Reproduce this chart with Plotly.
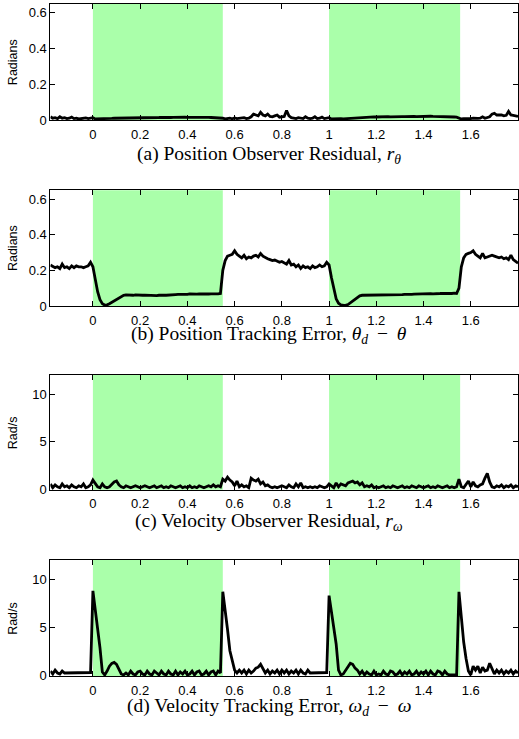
import numpy as np
import plotly.graph_objects as go

# ---------------- data ----------------
T_START, T_STOP, T_STEP = -0.18, 1.80, 0.01
t = np.round(np.arange(T_START, T_STOP + T_STEP / 2, T_STEP), 2)

# shaded intervals (seconds)
shade_start = [0.0, 1.0]
shade_end = [0.55, 1.555]

# (a) Position observer residual (rad)
pos_residual = [
    0.02, 0.012, 0.015, 0.01, 0.02, 0.012, 0.015, 0.01, 0.012, 0.018,
    0.01, 0.012, 0.008, 0.01, 0.012, 0.014, 0.01, 0.013, 0.015, 0.008,
    0.008, 0.007, 0.008, 0.009, 0.01, 0.01, 0.011, 0.012, 0.012, 0.013,
    0.013, 0.014, 0.014, 0.015, 0.014, 0.015, 0.015, 0.014, 0.015, 0.016,
    0.015, 0.016, 0.015, 0.016, 0.016, 0.015, 0.016, 0.017, 0.016, 0.016,
    0.017, 0.016, 0.017, 0.018, 0.017, 0.016, 0.017, 0.018, 0.017, 0.018,
    0.017, 0.018, 0.017, 0.017, 0.018, 0.017, 0.016, 0.017, 0.016, 0.016,
    0.016, 0.015, 0.015, 0.012, 0.008, 0.01, 0.012, 0.009, 0.014, 0.01,
    0.012, 0.01, 0.015, 0.01, 0.012, 0.02, 0.035, 0.03, 0.025, 0.045,
    0.03, 0.025, 0.035, 0.022, 0.02, 0.025, 0.03, 0.018, 0.02, 0.022,
    0.055, 0.025, 0.015, 0.012, 0.01, 0.015, 0.012, 0.01, 0.02, 0.012,
    0.01, 0.012, 0.02, 0.01, 0.012, 0.018, 0.01, 0.012, 0.015, 0.008,
    0.009, 0.01, 0.012, 0.01, 0.008, 0.009, 0.01, 0.012, 0.014, 0.016,
    0.017, 0.018, 0.017, 0.018, 0.019, 0.018, 0.019, 0.02, 0.019, 0.02,
    0.02, 0.019, 0.02, 0.021, 0.02, 0.021, 0.02, 0.021, 0.022, 0.021,
    0.021, 0.022, 0.021, 0.022, 0.022, 0.021, 0.022, 0.023, 0.022, 0.022,
    0.022, 0.023, 0.022, 0.022, 0.023, 0.022, 0.021, 0.02, 0.021, 0.02,
    0.02, 0.019, 0.018, 0.012, 0.008, 0.01, 0.009, 0.012, 0.01, 0.012,
    0.01, 0.011, 0.012, 0.02, 0.012, 0.015, 0.02, 0.035, 0.04, 0.03,
    0.032, 0.03, 0.025, 0.028, 0.05, 0.03, 0.028, 0.025, 0.022,
]

# (b) Position tracking error (rad)
pos_error = [
    0.23, 0.22, 0.215, 0.22, 0.21, 0.235, 0.215, 0.22, 0.21, 0.225,
    0.215, 0.225, 0.22, 0.22, 0.215, 0.22, 0.225, 0.245, 0.22, 0.15,
    0.08, 0.035, 0.012, 0.005, 0.006, 0.012, 0.02, 0.03, 0.04, 0.048,
    0.055, 0.06, 0.062, 0.06, 0.061, 0.06, 0.062, 0.06, 0.061, 0.06,
    0.061, 0.06, 0.062, 0.061, 0.06, 0.058, 0.06, 0.062, 0.061, 0.06,
    0.062, 0.063, 0.062, 0.064, 0.065, 0.064, 0.065, 0.066, 0.065, 0.068,
    0.066, 0.065, 0.066, 0.067, 0.066, 0.067, 0.068, 0.067, 0.068, 0.067,
    0.068, 0.068, 0.07, 0.2, 0.255, 0.28, 0.285, 0.29, 0.31, 0.29,
    0.28, 0.27, 0.285, 0.265, 0.275, 0.27, 0.28, 0.285, 0.275, 0.295,
    0.28, 0.27, 0.265, 0.26, 0.255, 0.258, 0.25, 0.245, 0.25, 0.24,
    0.235, 0.255, 0.23, 0.235, 0.22, 0.23, 0.21, 0.225, 0.215, 0.22,
    0.21, 0.225, 0.215, 0.22, 0.23, 0.22, 0.225, 0.245, 0.23, 0.16,
    0.09, 0.04, 0.015, 0.006, 0.004, 0.003, 0.008, 0.018, 0.03, 0.042,
    0.05, 0.057, 0.06, 0.06, 0.061, 0.06, 0.062, 0.06, 0.061, 0.06,
    0.06, 0.061, 0.062, 0.061, 0.062, 0.063, 0.062, 0.064, 0.063, 0.064,
    0.065, 0.064, 0.066, 0.065, 0.066, 0.067, 0.066, 0.068, 0.067, 0.068,
    0.068, 0.069, 0.068, 0.07, 0.069, 0.07, 0.071, 0.07, 0.072, 0.071,
    0.07, 0.072, 0.07, 0.1, 0.22, 0.27, 0.29, 0.295, 0.3, 0.31,
    0.29, 0.28, 0.27, 0.295, 0.27, 0.275, 0.28, 0.285, 0.28, 0.275,
    0.27, 0.275, 0.265, 0.27, 0.26, 0.285, 0.26, 0.25, 0.24,
]

# (c) Velocity observer residual (rad/s)
vel_residual = [
    0.6, 0.2, 0.5, 0.3, 0.2, 0.6, 0.3, 0.4, 0.2, 0.5,
    0.3, 0.2, 0.4, 0.3, 0.6, 0.2, 0.3, 0.5, 1.0, 0.6,
    0.3, 0.2, 0.6, 0.3, 0.2, 0.3, 0.6, 0.8, 0.9, 0.5,
    0.3, 0.2, 0.4, 0.3, 0.2, 0.3, 0.4, 0.3, 0.2, 0.3,
    0.4, 0.3, 0.2, 0.3, 0.4, 0.2, 0.3, 0.4, 0.2, 0.3,
    0.2, 0.4, 0.3, 0.2, 0.3, 0.4, 0.2, 0.3, 0.2, 0.4,
    0.2, 0.3, 0.2, 0.4, 0.3, 0.2, 0.3, 0.4, 0.3, 0.5,
    0.3, 0.4, 0.3, 1.1, 0.9, 1.3, 1.0, 0.8, 0.4, 0.9,
    0.3, 0.5, 0.3, 0.4, 0.2, 1.2, 1.0, 0.9, 1.1, 0.6,
    0.8, 0.4, 0.5, 0.3, 0.2, 0.3, 0.2, 0.3, 0.4, 0.3,
    0.2, 0.5, 0.3, 0.2, 0.6, 0.3, 0.7, 0.2, 0.3, 0.2,
    0.3, 0.2, 0.3, 0.2, 0.4, 0.3, 0.2, 0.3, 0.6, 0.4,
    0.2, 0.7, 0.3, 0.6, 0.5, 0.4, 0.7, 0.8, 0.9, 0.7,
    0.8, 0.5, 0.7, 0.3, 0.4, 0.3, 0.5, 0.2, 0.3, 0.2,
    0.3, 0.4, 0.2, 0.3, 0.2, 0.4, 0.3, 0.2, 0.3, 0.4,
    0.2, 0.3, 0.2, 0.4, 0.3, 0.2, 0.4, 0.3, 0.2, 0.3,
    0.4, 0.2, 0.3, 0.2, 0.4, 0.3, 0.2, 0.3, 0.4, 0.2,
    0.3, 0.2, 0.3, 1.1, 0.3, 0.2, 0.5, 0.9, 0.3, 0.8,
    0.4, 0.3, 0.5, 0.6, 1.2, 1.7, 0.8, 0.3, 0.2, 0.4,
    0.3, 0.5, 0.2, 0.4, 0.3, 0.5, 0.2, 0.4, 0.3,
]

# (d) Velocity tracking error (rad/s)
vel_error = [
    0.5, 0.2, 0.6, 0.3, 0.2, 0.5, 0.3, 0.3, 0.3, 0.3,
    0.3, 0.3, 0.3, 0.3, 0.3, 0.3, 0.3, 0.35, 8.8, 7.0,
    5.0, 2.9, 0.4, 0.1, 0.5, 1.0, 1.3, 1.4, 1.2, 0.6,
    0.2, 0.1, 0.3, 0.1, 0.5, 0.2, 0.1, 0.4, 0.5, 0.2,
    0.1, 0.5, 0.2, 0.1, 0.5, 0.3, 0.1, 0.5, 0.2, 0.1,
    0.5, 0.2, 0.1, 0.5, 0.1, 0.4, 0.2, 0.5, 0.1, 0.2,
    0.5, 0.1, 0.4, 0.5, 0.1, 0.2, 0.5, 0.1, 0.4, 0.5,
    0.1, 0.5, 0.3, 8.7, 7.0, 4.8, 2.6, 1.6, 0.6, 0.3,
    0.6, 0.3, 0.6, 0.2, 0.6, 0.3, 0.5, 0.8, 0.9, 1.2,
    0.8, 0.3, 0.6, 0.2, 0.5, 0.3, 0.6, 0.2, 0.6, 0.3,
    0.6, 0.2, 0.5, 0.3, 0.6, 0.2, 0.6, 0.3, 0.2, 0.6,
    0.3, 0.3, 0.3, 0.3, 0.3, 0.3, 0.3, 0.35, 8.3, 6.5,
    5.0, 3.3, 0.6, 0.1, 0.2, 0.6, 1.0, 1.3, 1.2, 0.8,
    0.6, 0.2, 0.5, 0.1, 0.4, 0.2, 0.1, 0.5, 0.1, 0.2,
    0.1, 0.5, 0.2, 0.1, 0.5, 0.4, 0.1, 0.2, 0.5, 0.1,
    0.4, 0.2, 0.5, 0.1, 0.2, 0.5, 0.1, 0.4, 0.2, 0.5,
    0.1, 0.5, 0.2, 0.1, 0.5, 0.4, 0.1, 0.5, 0.2, 0.1,
    0.1, 0.1, 0.1, 8.7, 6.0, 3.5, 1.8, 0.5, 0.1, 1.0,
    0.6, 1.0, 0.3, 0.9, 0.5, 0.6, 1.3, 0.7, 0.2, 0.6,
    0.3, 0.6, 0.2, 0.5, 0.3, 0.6, 0.2, 0.5, 0.3,
]

x_tickvals = [0, 0.2, 0.4, 0.6, 0.8, 1.0, 1.2, 1.4, 1.6]
x_ticktext = ["0", "0.2", "0.4", "0.6", "0.8", "1", "1.2", "1.4", "1.6"]
rad_tickvals = [0, 0.2, 0.4, 0.6]
rad_ticktext = ["0", "0.2", "0.4", "0.6"]
vel_tickvals = [0, 5, 10]
vel_ticktext = ["0", "5", "10"]

SP = "\u2009 "
panels = [
    dict(y=pos_residual, yrange=[0, 0.65], tv=rad_tickvals, tt=rad_ticktext, ylab="Radians",
         cap="(a) Position Observer Residual, <i>r</i><sub><i>θ</i></sub>"),
    dict(y=pos_error, yrange=[0, 0.65], tv=rad_tickvals, tt=rad_ticktext, ylab="Radians",
         cap="(b) Position Tracking Error, <i>θ</i><sub><i>d</i></sub>" + SP + "−" + SP + "<i>θ</i>"),
    dict(y=vel_residual, yrange=[0, 12], tv=vel_tickvals, tt=vel_ticktext, ylab="Rad/s",
         cap="(c) Velocity Observer Residual, <i>r</i><sub><i>ω</i></sub>"),
    dict(y=vel_error, yrange=[0, 12], tv=vel_tickvals, tt=vel_ticktext, ylab="Rad/s",
         cap="(d) Velocity Tracking Error, <i>ω</i><sub><i>d</i></sub>" + SP + "−" + SP + "<i>ω</i>"),
]

# ---------------- layout geometry (pixels) ----------------
W, H = 519, 739
left_px = 50.5
panel_px = [(4, 121.7), (192.3, 309.3), (379, 495), (566, 683.3)]  # (top, bottom)
caption_px = [157, 339, 528, 715]
caption_cx = 270

fig = go.Figure()
layout = dict(
    width=W, height=H,
    margin=dict(l=0, r=0, t=0, b=0),
    paper_bgcolor="white", plot_bgcolor="white",
    showlegend=False,
    font=dict(family="Liberation Sans, Arial, sans-serif", size=12, color="black"),
)
annotations = []
shapes = []

for i, p in enumerate(panels):
    n = i + 1
    xa = "x" if n == 1 else f"x{n}"
    ya = "y" if n == 1 else f"y{n}"
    top, bot = panel_px[i]
    fig.add_trace(go.Scatter(x=t, y=p["y"], mode="lines",
                             line=dict(color="black", width=2.8),
                             xaxis=xa, yaxis=ya, hoverinfo="skip"))
    axis_common = dict(showline=True, linecolor="black", linewidth=1, mirror="ticks",
                       ticks="inside", ticklen=5, tickwidth=1, tickcolor="black",
                       showgrid=False, zeroline=False,
                       tickfont=dict(family="Liberation Sans, Arial, sans-serif", size=13, color="black"))
    layout["xaxis" if n == 1 else f"xaxis{n}"] = dict(
        axis_common, domain=[left_px / W, 1.0], range=[T_START, T_STOP],
        tickvals=x_tickvals, ticktext=x_ticktext, anchor=ya, ticklabelstandoff=2)
    layout["yaxis" if n == 1 else f"yaxis{n}"] = dict(
        axis_common, domain=[1 - bot / H, 1 - top / H], range=p["yrange"],
        tickvals=p["tv"], ticktext=p["tt"], anchor=xa)
    for s0, s1 in zip(shade_start, shade_end):
        shapes.append(dict(type="rect", xref=xa, yref=f"{ya} domain", x0=s0, x1=s1, y0=0, y1=1,
                           fillcolor="#aaffaa", line=dict(width=0), layer="below"))
    annotations.append(dict(text=p["ylab"], xref="paper", yref="paper",
                            x=13 / W, y=1 - (top + bot) / 2 / H, textangle=-90,
                            showarrow=False, xanchor="center", yanchor="middle",
                            font=dict(family="Liberation Sans, Arial, sans-serif", size=12.5)))
    annotations.append(dict(text=p["cap"], xref="paper", yref="paper",
                            x=caption_cx / W, y=1 - caption_px[i] / H,
                            showarrow=False, xanchor="center", yanchor="middle", borderpad=0,
                            font=dict(family="Liberation Serif, Times New Roman, serif", size=19.5)))

layout["annotations"] = annotations
layout["shapes"] = shapes
fig.update_layout(**layout)
fig.write_html("out.html")
